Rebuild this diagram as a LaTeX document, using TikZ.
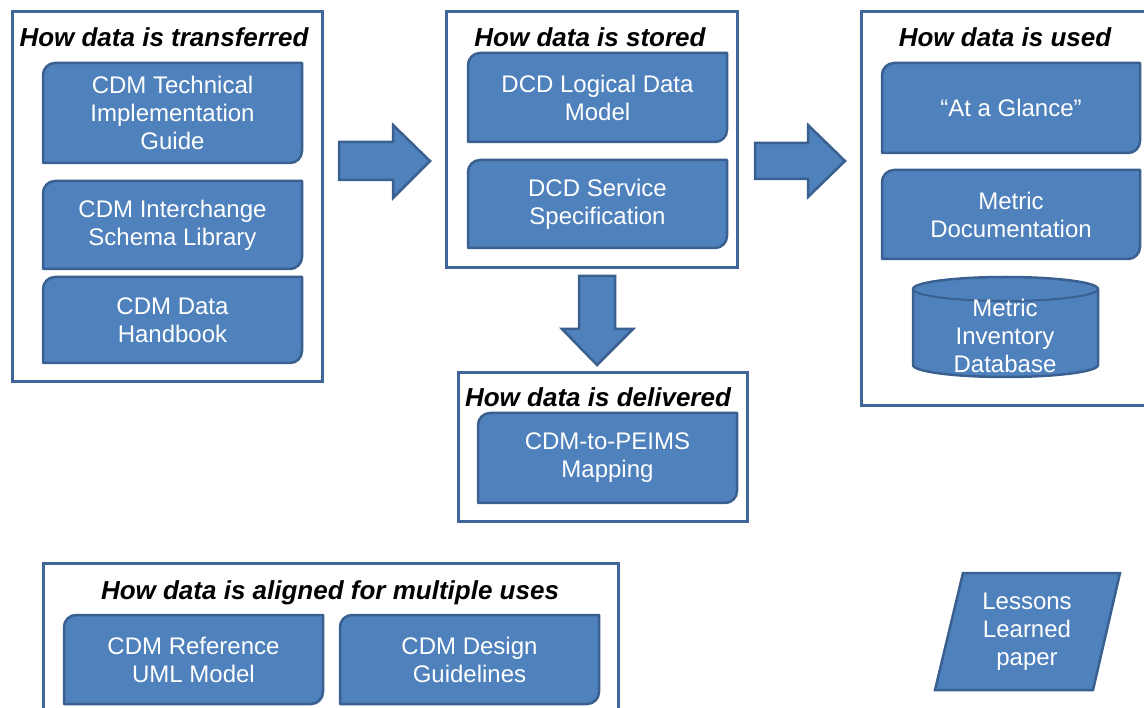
\documentclass[tikz,border=0pt]{standalone}
\usepackage{fontspec}
\setmainfont{Liberation Sans}
\definecolor{fillb}{HTML}{4F81BD}
\definecolor{edgeb}{HTML}{3A6090}
\definecolor{frameb}{HTML}{40669A}
\tikzset{
 contbox/.style={draw=frameb, line width=3pt, fill=white, inner sep=0pt},
 dshape/.style={draw=edgeb, line width=2.5pt, fill=fillb, line join=round},
 btext/.style={text=white, align=center, font=\fontsize{24}{28}\selectfont, inner sep=0pt},
 ttext/.style={text=black, font=\fontsize{26}{30}\selectfont\bfseries\itshape, inner sep=0pt},
}
\newcommand\dbox[6]{%
 \draw[dshape] (#2,#3+12) arc[start angle=180,end angle=270,radius=12] -- (#4,#3) -- (#4,#5-12) arc[start angle=0,end angle=90,radius=12] -- (#2,#5) -- cycle;
 \node[btext] (#1) at ({(#2+#4)/2},{(#3+#5)/2}) {#6};}
\newcommand\cbox[5]{%
 \node[contbox, minimum width={#4-#2}, minimum height={#5-#3}] (#1) at ({(#2+#4)/2},{(#3+#5)/2}) {};}
\begin{document}
\begin{tikzpicture}[x=1pt,y=-1pt]
\useasboundingbox (0,0) rectangle (1144,708);
% containers
\cbox{T}{12}{12}{322}{382}
\cbox{S}{446}{12}{737}{268}
\cbox{U}{861}{12}{1160}{406}
\cbox{D}{458}{373}{747}{522}
\cbox{A}{43}{563}{618}{730}
% titles
\node[ttext] (tT) at (164,37) {How data is transferred};
\node[ttext] (tS) at (590,37) {How data is stored};
\node[ttext] (tU) at (1005,37) {How data is used};
\node[ttext] (tD) at (598,397) {How data is delivered};
\node[ttext] (tA) at (330,593) {How data is aligned for multiple uses};
% boxes
\dbox{b1}{43}{63}{302}{163}{CDM Technical\\Implementation\\Guide}
\dbox{b2}{43}{181}{302}{269}{CDM Interchange\\Schema Library}
\dbox{b3}{43}{277}{302}{363}{CDM Data\\Handbook}
\dbox{b4}{468}{53}{727}{142}{DCD Logical Data\\Model}
\dbox{b5}{468}{160}{727}{248}{DCD Service\\Specification}
\dbox{b6}{882}{63}{1140}{153}{“At a Glance”}
\dbox{b7}{882}{170}{1140}{259}{Metric\\Documentation}
\dbox{b8}{478}{413}{737}{503}{CDM-to-PEIMS\\Mapping}
\dbox{b9}{64}{615}{323}{704}{CDM Reference\\UML Model}
\dbox{b10}{340}{615}{599}{704}{CDM Design\\Guidelines}
% cylinder
\draw[dshape] (913,289) -- (913,365) arc[start angle=180,end angle=0,x radius=92.5,y radius=12] -- (1098,289) arc[start angle=360,end angle=180,x radius=92.5,y radius=12] -- cycle;
\draw[draw=edgeb, line width=2pt] (913,289) arc[start angle=180,end angle=0,x radius=92.5,y radius=12];
\node[btext] (cyl) at (1005,336) {Metric\\Inventory\\Database};
% parallelogram
\draw[dshape, line join=miter] (963,573) -- (1120,573) -- (1093,690) -- (935,690) -- cycle;
\node[btext] (ll) at (1027,632) {Lessons\\Learned\\paper};
% block arrows
\draw[dshape, line join=miter] (339,142) -- (393,142) -- (393,125) -- (430,161) -- (393,198) -- (393,180) -- (339,180) -- cycle;
\draw[dshape, line join=miter] (755,143) -- (808,143) -- (808,125) -- (845,161) -- (808,197) -- (808,179) -- (755,179) -- cycle;
\draw[dshape, line join=miter] (579,276) -- (615,276) -- (615,329) -- (633,329) -- (597,365) -- (562,329) -- (579,329) -- cycle;
\end{tikzpicture}
\end{document}
